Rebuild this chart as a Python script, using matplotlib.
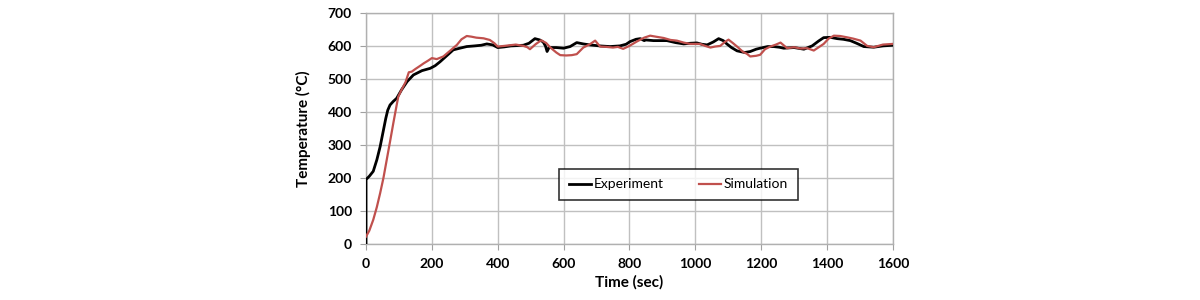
import matplotlib
matplotlib.use("Agg")
import matplotlib.pyplot as plt

# Experiment (black)
exp_t = [0, 0, 10, 22, 33, 43, 53, 60, 66, 73, 83, 93, 108, 125, 144, 170, 195, 210,
         225, 245, 265, 285, 306, 330, 350, 367, 385, 400, 420, 440, 460, 478, 495,
         513, 528, 538, 545, 550, 556, 578, 600, 620, 640, 660, 680, 710, 741, 771,
         790, 802, 820, 833, 845, 850, 873, 890, 914, 940, 965, 985, 1005, 1020,
         1036, 1055, 1071, 1085, 1096, 1110, 1127, 1150, 1167, 1185, 1197, 1220,
         1238, 1255, 1269, 1300, 1330, 1355, 1375, 1390, 1410, 1431, 1450, 1471,
         1490, 1512, 1542, 1570, 1600]
exp_v = [0, 195, 205, 220, 255, 295, 345, 380, 405, 421, 432, 441, 467, 492, 512, 525, 532, 540,
         552, 570, 588, 593, 598, 600, 602, 606, 603, 595, 597, 600, 601, 602, 608,
         622, 618, 612, 600, 583, 595, 595, 593, 598, 610, 606, 603, 600, 598, 600,
         605, 613, 620, 622, 616, 618, 616, 616, 616, 610, 606, 608, 609, 605,
         603, 612, 622, 616, 606, 595, 585, 580, 583, 590, 593, 598,
         598, 596, 593, 595, 590, 600, 615, 625, 626, 622, 620, 616,
         608, 598, 596, 600, 602]

# Simulation (red)
sim_t = [0, 10, 22, 33, 43, 53, 63, 73, 83, 93, 98, 108, 120, 130, 139, 150, 165, 175,
         188, 200, 215, 235, 255, 276, 290, 306, 320, 335, 357, 376, 390, 400, 420,
         437, 455, 478, 490, 498, 515, 532, 547, 560, 578, 590, 608, 625, 640, 660,
         680, 696, 711, 730, 750, 765, 781, 800, 822, 845, 863, 880, 904, 925, 944,
         965, 985, 1000, 1015, 1030, 1046, 1060, 1076, 1090, 1101, 1115, 1127, 1145,
         1157, 1167, 1185, 1197, 1212, 1228, 1245, 1259, 1279, 1300, 1320, 1340,
         1360, 1375, 1390, 1405, 1421, 1440, 1461, 1480, 1502, 1522, 1542, 1570, 1600]
sim_v = [22, 40, 73, 112, 154, 200, 255, 310, 366, 420, 446, 467, 490, 520, 522, 530, 540, 547,
         555, 563, 560, 568, 585, 603, 620, 630, 628, 625, 623, 618, 608, 598, 600,
         602, 604, 600, 596, 590, 605, 617, 609, 595, 580, 572, 571, 572, 575, 595,
         605, 616, 598, 597, 595, 597, 591, 600, 613, 625, 631, 628, 624, 618, 616,
         610, 606, 606, 606, 600, 595, 598, 600, 612, 619, 608, 598, 582,
         576, 568, 570, 573, 590, 598, 604, 610, 593, 596, 592, 593,
         586, 596, 606, 622, 631, 630, 626, 622, 616, 600, 596, 604, 606]

x_ticks = [0, 200, 400, 600, 800, 1000, 1200, 1400, 1600]
y_ticks = [0, 100, 200, 300, 400, 500, 600, 700]

plt.rcParams["font.family"] = ["Lato", "DejaVu Sans"]

fig = plt.figure(figsize=(12, 3), dpi=100)
ax = fig.add_axes([0.305, 0.187, 0.439, 0.770])

ax.plot(exp_t, exp_v, color="black", lw=2.0, label="Experiment", zorder=3)
ax.plot(sim_t, sim_v, color="#c0504d", lw=1.6, label="Simulation", zorder=4)

ax.set_xlim(0, 1600)
ax.set_ylim(0, 700)
ax.set_xticks(x_ticks)
ax.set_yticks(y_ticks)
ax.tick_params(axis="both", labelsize=10, length=4, color="#a0a0a0", pad=6)
for lbl in ax.get_xticklabels() + ax.get_yticklabels():
    lbl.set_fontweight("bold")
ax.grid(True, color="#c0c0c0", lw=1.0)
ax.set_axisbelow(True)
for sp in ax.spines.values():
    sp.set_color("#b0b0b0")
    sp.set_linewidth(1.0)

ax.set_xlabel("Time (sec)", fontsize=11, fontweight="bold", labelpad=4)
ax.set_ylabel("Temperature (°C)", fontsize=11, fontweight="bold", labelpad=12)

leg = ax.legend(loc="center", bbox_to_anchor=(0.5654, 0.385), bbox_transform=fig.transFigure,
                ncol=2, fontsize=10, frameon=True, fancybox=False, handlelength=1.6,
                handletextpad=0.2, columnspacing=2.5, borderpad=0.7)
leg.get_frame().set_edgecolor("black")
leg.get_frame().set_linewidth(1.2)

fig.savefig("out.png", dpi=100)
